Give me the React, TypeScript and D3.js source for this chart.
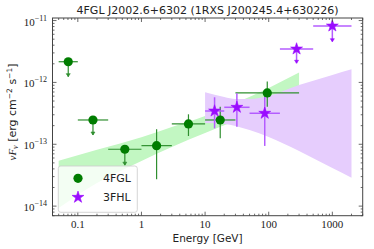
import React from 'react';
import * as d3 from 'd3';

const W = 374;
const H = 249;

// 4FGL bins (GeV) and fluxes (erg cm^-2 s^-1)
const fglE = [0.0707, 0.173, 0.548, 1.73, 5.48, 17.3, 94.9];
const fglEmin = [0.05, 0.1, 0.3, 1, 3, 10, 30];
const fglEmax = [0.1, 0.3, 1, 3, 10, 30, 300];
const fglFlux = [2.16e-12, 2.47e-13, 8.3e-14, 9.5e-14, 2.13e-13, 2.47e-13, 6.75e-13];
const fglHi = [null, null, null, 1.75e-13, 3.05e-13, 4.06e-13, 1.03e-12];
const fglLo = [1.24e-12, 1.41e-13, 4.6e-14, 2.72e-14, 1.36e-13, 1.25e-13, 4.06e-13];
const fglUL = [true, true, true, false, false, false, false];

// 3FHL bins
const fhlE = [14.1, 31.6, 86.6, 274, 1000];
const fhlEmin = [10, 20, 50, 150, 500];
const fhlEmax = [20, 50, 150, 500, 2000];
const fhlFlux = [3.45e-13, 3.96e-13, 3.17e-13, 3.47e-12, 8.17e-12];
const fhlHi = [5.75e-13, 6.67e-13, 5.8e-13, null, null];
const fhlLo = [1.81e-13, 1.92e-13, 9.4e-14, 2.04e-12, 4.55e-12];
const fhlUL = [false, false, false, true, true];

// butterflies
const fglBandE = [0.05, 0.2, 1, 3, 10, 30, 100, 300];
const fglBandUp = [5.43e-14, 8.15e-14, 1.3e-13, 1.9e-13, 2.86e-13, 4.65e-13, 8.12e-13, 1.44e-12];
const fglBandLow = [9.33e-15, 2.37e-14, 5.37e-14, 9.04e-14, 1.52e-13, 2.38e-13, 3.58e-13, 5.2e-13];

const fhlBandE = [10, 20, 30, 50, 100, 300, 1000, 2000];
const fhlBandUp = [6.92e-13, 5.81e-13, 5.39e-13, 5.39e-13, 6.03e-13, 9.08e-13, 1.32e-12, 1.63e-12];
const fhlBandLow = [2.21e-13, 2.13e-13, 1.98e-13, 1.7e-13, 1.31e-13, 7.78e-14, 4.13e-14, 2.88e-14];

const xTickLabels = ['0.1', '1', '10', '100', '1000'];
const yTickExp = [-11, -12, -13, -14];

const GREEN = '#007d00';
const GREEN_BAR = '#2f8f2f';
const GREEN_BAND = '#c2f7c2';
const PURPLE = '#9a0cff';
const PURPLE_BAR = '#b45cff';
const PURPLE_BAND = '#e6cdfd';
const FRAME = '#444';

export default function App() {
  const left = 52.5;
  const right = 362.7;
  const top = 18;
  const bottom = 215.7;

  const x = d3.scaleLog().domain([0.04, 3000]).range([left, right]);
  const y = d3.scaleLog().domain([7e-15, 1.1e-11]).range([bottom, top]);

  const fglBand = d3
    .area<number>()
    .curve(d3.curveMonotoneX)
    .x((_, i) => x(fglBandE[i]))
    .y0((_, i) => y(fglBandLow[i]))
    .y1((_, i) => y(fglBandUp[i]))(fglBandE);
  const fhlBand = d3
    .area<number>()
    .curve(d3.curveMonotoneX)
    .x((_, i) => x(fhlBandE[i]))
    .y0((_, i) => y(fhlBandLow[i]))
    .y1((_, i) => y(fhlBandUp[i]))(fhlBandE);

  const xMinor = x.ticks().filter((t) => t >= 0.04 && t <= 3000);
  const yMinor = y.ticks().filter((t) => t >= 7e-15 && t <= 1.1e-11);
  const isMajor = (t: number) => Math.abs(Math.log10(t) - Math.round(Math.log10(t))) < 1e-6;

  const star = d3.symbol().type(d3.symbolStar).size(44)() as string;
  const arrowHead = (cx: number, cy: number, color: string) => (
    <path d={`M${cx - 2},${cy - 3}L${cx + 2},${cy - 3}L${cx},${cy}Z`} fill={color} stroke={color} strokeWidth={0.6} />
  );

  const serif = '"Liberation Serif", "DejaVu Serif", serif';
  const sans = '"DejaVu Sans", sans-serif';

  return (
    <svg width={W} height={H} style={{ position: 'absolute', left: 0, top: 0 }}>
      <rect width={W} height={H} fill="white" />

      {/* bands */}
      <path d={fglBand || ''} fill={GREEN_BAND} />
      <path d={fhlBand || ''} fill={PURPLE_BAND} />

      {/* 4FGL points */}
      {fglE.map((e, i) => {
        const cx = x(e);
        const cy = y(fglFlux[i]);
        const hi = fglHi[i];
        return (
          <g key={'g' + i}>
            <line x1={x(fglEmin[i])} x2={x(fglEmax[i])} y1={cy} y2={cy} stroke={GREEN_BAR} strokeWidth={1.2} />
            <line x1={cx} x2={cx} y1={hi ? y(hi) : cy} y2={y(fglLo[i])} stroke={GREEN_BAR} strokeWidth={1.2} />
            {fglUL[i] && arrowHead(cx, y(fglLo[i]), GREEN_BAR)}
            <circle cx={cx} cy={cy} r={4.6} fill={GREEN} />
          </g>
        );
      })}

      {/* 3FHL points */}
      {fhlE.map((e, i) => {
        const cx = x(e);
        const cy = y(fhlFlux[i]);
        const hi = fhlHi[i];
        return (
          <g key={'p' + i}>
            <line x1={x(fhlEmin[i])} x2={x(fhlEmax[i])} y1={cy} y2={cy} stroke={PURPLE_BAR} strokeWidth={1.5} />
            <line x1={cx} x2={cx} y1={hi ? y(hi) : cy} y2={y(fhlLo[i])} stroke={PURPLE_BAR} strokeWidth={1.5} />
            {fhlUL[i] && arrowHead(cx, y(fhlLo[i]), PURPLE)}
            <path d={star} transform={`translate(${cx},${cy})`} fill={PURPLE} stroke={PURPLE} strokeWidth={0.6} />
          </g>
        );
      })}

      {/* ticks */}
      {xMinor.map((t, i) => {
        const len = isMajor(t) ? 4 : 2;
        const px = x(t);
        return (
          <g key={'xt' + i} stroke={FRAME} strokeWidth={0.8}>
            <line x1={px} x2={px} y1={bottom} y2={bottom - len} />
            <line x1={px} x2={px} y1={top} y2={top + len} />
          </g>
        );
      })}
      {yMinor.map((t, i) => {
        const len = isMajor(t) ? 4 : 2;
        const py = y(t);
        return (
          <g key={'yt' + i} stroke={FRAME} strokeWidth={0.8}>
            <line x1={left} x2={left + len} y1={py} y2={py} />
            <line x1={right} x2={right - len} y1={py} y2={py} />
          </g>
        );
      })}

      <rect x={left} y={top} width={right - left} height={bottom - top} fill="none" stroke={FRAME} strokeWidth={1} />

      {/* tick labels */}
      {xTickLabels.map((lab) => (
        <text key={lab} x={x(+lab)} y={228} textAnchor="middle" fontFamily={serif} fontSize={11} fill="#222">
          {lab}
        </text>
      ))}
      {yTickExp.map((ex) => (
        <text key={ex} x={47} y={y(Math.pow(10, ex)) + 5} textAnchor="end" fontFamily={serif} fontSize={11} fill="#222">
          <tspan>10</tspan>
          <tspan dy={-5} fontSize={8}>
            {'\u2212' + Math.abs(ex)}
          </tspan>
        </text>
      ))}

      {/* labels */}
      <text x={(left + right) / 2} y={14} textAnchor="middle" fontFamily={sans} fontSize={11} fill="#222">
        4FGL J2002.6+6302 (1RXS J200245.4+630226)
      </text>
      <text x={(left + right) / 2} y={242} textAnchor="middle" fontFamily={sans} fontSize={10.5} fill="#222">
        Energy [GeV]
      </text>
      <text transform="translate(16,112) rotate(-90)" textAnchor="middle" fontSize={11} fill="#222">
        <tspan fontFamily={serif} fontStyle="italic">νF</tspan>
        <tspan fontFamily={serif} fontStyle="italic" fontSize={8} dy={2}>ν</tspan>
        <tspan fontFamily={sans} dy={-2}> [erg cm</tspan>
        <tspan fontFamily={sans} fontSize={7.5} dy={-4}>−2</tspan>
        <tspan fontFamily={sans} dy={4}> s</tspan>
        <tspan fontFamily={sans} fontSize={7.5} dy={-4}>−1</tspan>
        <tspan fontFamily={sans} dy={4}>]</tspan>
      </text>

      {/* legend */}
      <rect x={58.3} y={166} width={79} height={46.3} rx={2.5} fill="white" fillOpacity={0.8} stroke="#ccc" strokeWidth={0.8} />
      <circle cx={78} cy={178.3} r={4.6} fill={GREEN} />
      <path d={star} transform="translate(78,197.3)" fill={PURPLE} stroke={PURPLE} strokeWidth={0.6} />
      <text x={103} y={182.3} fontFamily={sans} fontSize={11} fill="#222">4FGL</text>
      <text x={103} y={201.3} fontFamily={sans} fontSize={11} fill="#222">3FHL</text>
    </svg>
  );
}
